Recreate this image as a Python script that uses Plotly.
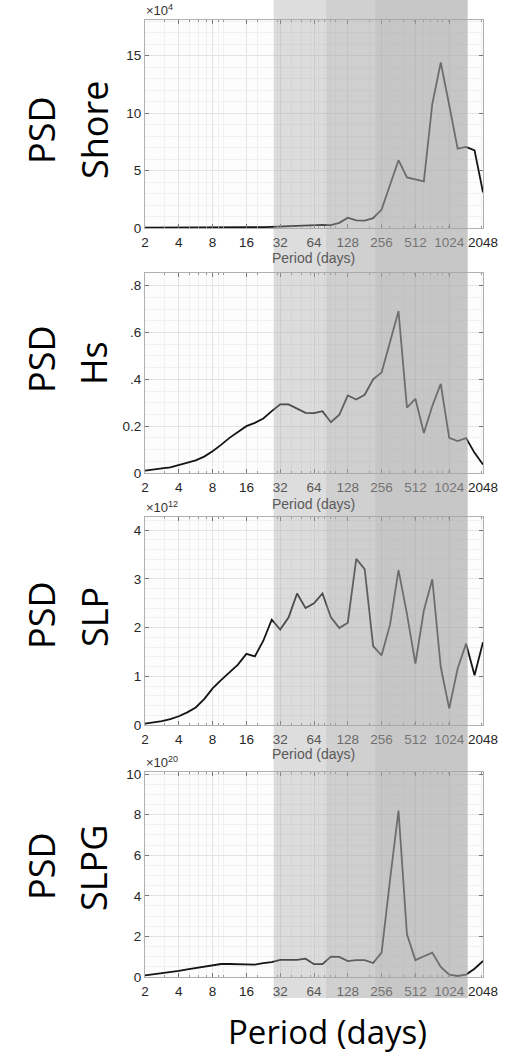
import numpy as np
import plotly.graph_objects as go

# ---------------- data ----------------
period_days = [2, 2.38, 2.83, 3.36, 4, 4.76, 5.66, 6.73, 8, 9.51, 11.31, 13.45, 16,
               19.03, 22.63, 26.91, 32, 38.05, 45.25, 53.82, 64, 76.11, 90.51, 107.63,
               128, 152.22, 181.02, 215.27, 256, 304.44, 362.04, 430.54, 512, 608.87,
               724.08, 861.08, 1024, 1217.75, 1448.15, 1722.16, 2048]

psd_shore = [0.02, 0.02, 0.02, 0.02, 0.02, 0.02, 0.03, 0.03, 0.03, 0.03, 0.04, 0.04, 0.05,
             0.06, 0.08, 0.10, 0.13, 0.16, 0.20, 0.25, 0.27, 0.27, 0.25, 0.45, 0.90, 0.67,
             0.65, 0.85, 1.6, 3.7, 5.9, 4.4, 4.2, 4.05, 10.8, 14.4, 10.7, 6.9, 7.05, 6.75, 3.1]

psd_hs = [0.010, 0.016, 0.020, 0.024, 0.033, 0.043, 0.054, 0.070, 0.093, 0.120, 0.150,
          0.175, 0.200, 0.214, 0.233, 0.264, 0.293, 0.293, 0.274, 0.257, 0.256, 0.264,
          0.217, 0.249, 0.331, 0.314, 0.334, 0.400, 0.429, 0.565, 0.691, 0.279, 0.317,
          0.171, 0.286, 0.381, 0.150, 0.136, 0.149, 0.086, 0.036]

psd_slp = [0.03, 0.05, 0.08, 0.12, 0.18, 0.26, 0.36, 0.53, 0.75, 0.92, 1.07, 1.24, 1.46,
           1.41, 1.73, 2.16, 1.96, 2.21, 2.70, 2.40, 2.50, 2.70, 2.21, 1.99, 2.10, 3.41,
           3.20, 1.62, 1.43, 2.06, 3.18, 2.28, 1.26, 2.35, 2.99, 1.19, 0.34, 1.16, 1.67,
           1.02, 1.70]

psd_slpg = [0.08, 0.13, 0.18, 0.23, 0.30, 0.38, 0.45, 0.51, 0.56, 0.64, 0.64, 0.64, 0.64,
            0.61, 0.68, 0.73, 0.84, 0.84, 0.84, 0.90, 0.63, 0.63, 1.00, 0.99, 0.78, 0.83,
            0.83, 0.69, 1.20, 4.80, 8.20, 2.10, 0.83, 1.02, 1.20, 0.50, 0.12, 0.05, 0.12,
            0.41, 0.79]

series_names = ["Shore", "Hs", "SLP", "SLPG"]
series_values = [psd_shore, psd_hs, psd_slp, psd_slpg]
series_exponents = [4, None, 12, 20]

x_tick_vals = [2, 4, 8, 16, 32, 64, 128, 256, 512, 1024, 2048]
x_tick_text = ["2", "4", "8", "16", "32", "64", "128", "256", "512", "1024", "2048"]

y_tick_vals = [[0, 5, 10, 15], [0, 0.2, 0.4, 0.6, 0.8], [0, 1, 2, 3, 4], [0, 2, 4, 6, 8, 10]]
y_tick_text = [["0", "5", "10", "15"], ["0", "0.2", ".4", ".6", ".8"],
               ["0", "1", "2", "3", "4"], ["0", "2", "4", "6", "8", "10"]]
y_max = [18.1, 0.854, 4.27, 10.1]
y_minor = [1, 0.05, 0.2, 0.5]

band_edges_days = [28, 82, 224, 1496]
band_opacity = [0.38, 0.52, 0.62]

# ---------------- layout helpers ----------------
W, H = 512, 1053
ML, MR = 145, 29
PW = W - ML - MR


def py(p):
    return 1 - p / H


def px(p):
    return (p - ML) / PW


panel_px = [(20, 228), (273, 473), (517, 725), (772, 977)]

minor_x = [3, 5, 6, 7, 9, 10, 20, 30, 40, 50, 60, 70, 80, 90, 100, 200, 300, 400,
           500, 600, 700, 800, 900, 1000, 2000]

tick_font = dict(family="Liberation Sans, Arial", size=13.5, color="#262626")

fig = go.Figure()
layout = dict(
    width=W, height=H,
    margin=dict(l=ML, r=MR, t=0, b=0),
    paper_bgcolor="white",
    plot_bgcolor="#fdfdfd",
    showlegend=False,
    template="none",
)

for i in range(4):
    n = i + 1
    xs = "x" if n == 1 else f"x{n}"
    ys = "y" if n == 1 else f"y{n}"
    fig.add_trace(go.Scatter(x=period_days, y=series_values[i], mode="lines",
                             line=dict(color="#141414", width=1.8),
                             xaxis=xs, yaxis=ys, hoverinfo="skip"))
    top, bot = panel_px[i]
    layout[f"xaxis{'' if n == 1 else n}"] = dict(
        type="log", range=[np.log10(2), np.log10(2048)], domain=[0, 1],
        anchor=ys, tickmode="array", tickvals=x_tick_vals, ticktext=x_tick_text,
        tickfont=tick_font, ticks="inside", ticklen=4, tickcolor="#777",
        showline=True, linecolor="#b0b0b0", linewidth=1, mirror="ticks",
        showgrid=True, gridcolor="#e4e4e4", gridwidth=1, zeroline=False,
        minor=dict(tickmode="array", tickvals=minor_x, showgrid=True,
                   gridcolor="#f1f1f1", ticks="inside", ticklen=2, tickcolor="#999"),
        automargin=False, ticklabelstandoff=2,
    )
    layout[f"yaxis{'' if n == 1 else n}"] = dict(
        range=[0, y_max[i]], domain=[py(bot), py(top)], anchor=xs,
        tickmode="array", tickvals=y_tick_vals[i], ticktext=y_tick_text[i],
        tickfont=tick_font, ticks="inside", ticklen=4, tickcolor="#777",
        showline=True, linecolor="#b0b0b0", linewidth=1, mirror="ticks",
        showgrid=True, gridcolor="#e4e4e4", gridwidth=1, zeroline=False,
        minor=dict(dtick=y_minor[i], showgrid=True, gridcolor="#f1f1f1"),
        automargin=False,
    )

fig.update_layout(**layout)

# shaded bands spanning the whole figure column
for j in range(3):
    fig.add_shape(type="rect", xref="x", yref="paper",
                  x0=band_edges_days[j], x1=band_edges_days[j + 1],
                  y0=py(998), y1=1.0, fillcolor="rgb(165,165,165)",
                  opacity=band_opacity[j], line=dict(width=0), layer="above")

big_font = dict(family="Open Sans", size=36, color="black")
label_centres = [(130, 130), (359, 363), (615, 617), (866, 868)]
for i in range(4):
    c1, c2 = label_centres[i]
    fig.add_annotation(text="PSD", textangle=-90, xref="paper", yref="paper",
                       x=px(41), y=py(c1), xanchor="center", yanchor="middle",
                       showarrow=False, font=big_font)
    fig.add_annotation(text=series_names[i], textangle=-90, xref="paper", yref="paper",
                       x=px(94), y=py(c2), xanchor="center", yanchor="middle",
                       showarrow=False, font=big_font)
    top, bot = panel_px[i]
    if series_exponents[i] is not None:
        fig.add_annotation(text=f"\u00d710<sup>{series_exponents[i]}</sup>",
                           xref="paper", yref="paper", x=0, y=py(top - 1),
                           xanchor="left", yanchor="bottom", showarrow=False,
                           borderpad=0,
                           font=dict(family="Liberation Sans, Arial", size=13, color="#333"))

small_title_y = [258, 504, 754]
for yy in small_title_y:
    fig.add_annotation(text="Period (days)", xref="paper", yref="paper",
                       x=px(313), y=py(yy), xanchor="center", yanchor="middle",
                       showarrow=False,
                       font=dict(family="Liberation Sans, Arial", size=14, color="#5a5a5a"))

fig.add_annotation(text="Period (days)", xref="paper", yref="paper",
                   x=px(327), y=py(1031), xanchor="center", yanchor="middle",
                   showarrow=False, borderpad=0,
                   font=dict(family="Open Sans", size=33, color="black"))

fig.write_html("out.html")
